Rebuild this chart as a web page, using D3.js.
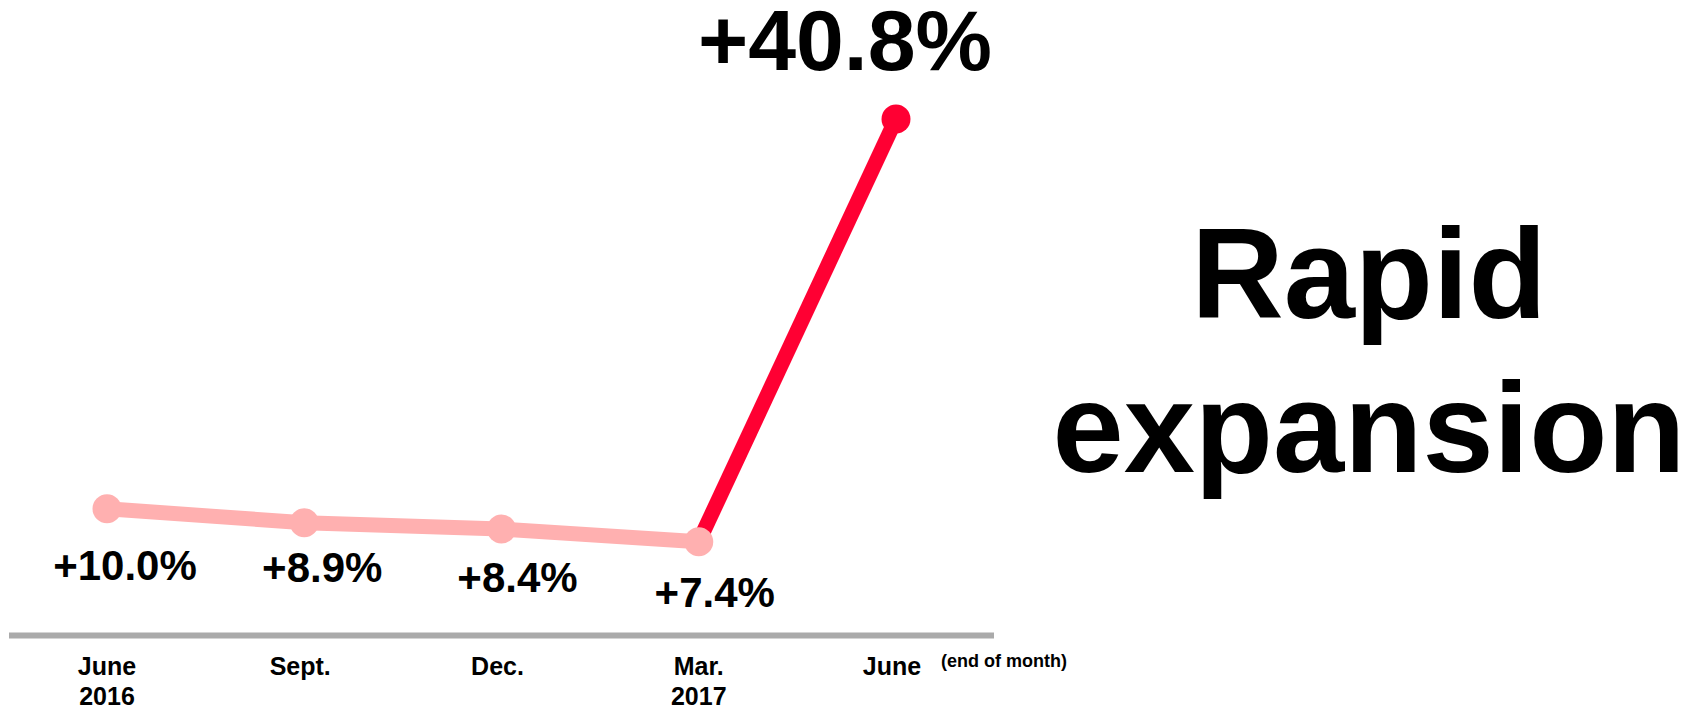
<!DOCTYPE html>
<html>
<head>
<meta charset="utf-8">
<script src="https://cdn.jsdelivr.net/npm/d3@7"></script>
<style>
  html, body { margin: 0; padding: 0; background: #fff; }
  svg { display: block; }
  text { font-family: "Liberation Sans", Arial, Helvetica, sans-serif; font-weight: bold; fill: #000; }
</style>
</head>
<body>
<script>
// Period labels (quarter ends) and year-on-year growth (%)
const periods = ["June 2016", "Sept.", "Dec.", "Mar. 2017", "June"];
const periodLines = [["June", "2016"], ["Sept."], ["Dec."], ["Mar.", "2017"], ["June"]];
const growth = [10.0, 8.9, 8.4, 7.4, 40.8];
const growthLabels = ["+10.0%", "+8.9%", "+8.4%", "+7.4%", "+40.8%"];
const axisNote = "(end of month)";
const headline = ["Rapid", "expansion"];

const W = 1692, H = 709;
const svg = d3.select("body").append("svg").attr("width", W).attr("height", H);

const x = d3.scalePoint().domain(periods).range([107, 896]);
const y = d3.scaleLinear().domain([0, 40.8]).range([635.4, 119]);

const pts = periods.map((p, i) => ({ p, v: growth[i], label: growthLabels[i], i }));
const last = pts.length - 1;

// baseline rule
svg.append("line")
  .attr("x1", 9).attr("x2", 994)
  .attr("y1", y(0)).attr("y2", y(0))
  .attr("stroke", "#aaaaaa").attr("stroke-width", 6);

const line = d3.line().x(d => x(d.p)).y(d => y(d.v));

// latest jump highlighted in red
svg.append("path")
  .datum(pts.slice(last - 1))
  .attr("d", line)
  .attr("fill", "none").attr("stroke", "#ff0033").attr("stroke-width", 15);

// earlier quarters in muted pink
svg.append("path")
  .datum(pts.slice(0, last))
  .attr("d", line)
  .attr("fill", "none").attr("stroke", "#ffb0b0").attr("stroke-width", 15);

svg.selectAll("circle.pt")
  .data(pts)
  .join("circle")
  .attr("class", "pt")
  .attr("cx", d => x(d.p))
  .attr("cy", d => y(d.v))
  .attr("r", 14.5)
  .attr("fill", d => d.i === last ? "#ff0033" : "#ffb0b0");

// value labels: small ones below the points, the latest one above
const nudge = [[18, 71], [18, 59], [16, 63], [16, 65]];
svg.selectAll("text.val")
  .data(pts.slice(0, last))
  .join("text")
  .attr("class", "val")
  .attr("x", d => x(d.p) + nudge[d.i][0])
  .attr("y", d => y(d.v) + nudge[d.i][1])
  .attr("text-anchor", "middle")
  .attr("font-size", 42)
  .text(d => d.label);

svg.append("text")
  .attr("x", x(pts[last].p) - 51)
  .attr("y", y(pts[last].v) - 49)
  .attr("text-anchor", "middle")
  .attr("font-size", 86)
  .text(pts[last].label);

// period labels under the rule
const tickShift = [0, -4, -4, 0, -4];
const tick = svg.selectAll("text.tick")
  .data(pts)
  .join("text")
  .attr("class", "tick")
  .attr("text-anchor", "middle")
  .attr("font-size", 25);
tick.selectAll("tspan")
  .data(d => periodLines[d.i].map(t => ({ t, d })))
  .join("tspan")
  .attr("x", e => x(e.d.p) + tickShift[e.d.i])
  .attr("y", (e, j) => 675 + j * 30)
  .text(e => e.t);

svg.append("text")
  .attr("x", 941).attr("y", 667)
  .attr("font-size", 18)
  .text(axisNote);

// headline at right
svg.selectAll("text.head")
  .data(headline)
  .join("text")
  .attr("class", "head")
  .attr("x", 1369)
  .attr("y", (d, i) => 318 + i * 154)
  .attr("text-anchor", "middle")
  .attr("font-size", 128)
  .text(d => d);
</script>
</body>
</html>
